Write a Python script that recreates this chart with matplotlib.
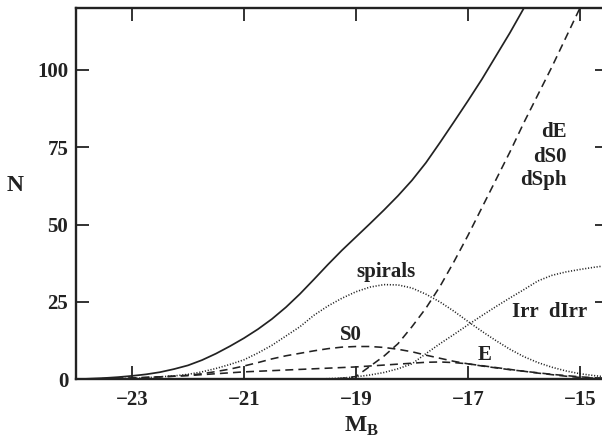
import numpy as np
import matplotlib.pyplot as plt

plt.rcParams['font.family'] = 'Liberation Serif'
plt.rcParams['font.weight'] = 'bold'
plt.rcParams['axes.labelweight'] = 'bold'
plt.rcParams['mathtext.fontset'] = 'custom'
plt.rcParams['mathtext.bf'] = 'Liberation Serif:bold'
plt.rcParams['mathtext.rm'] = 'Liberation Serif:bold'

# absolute magnitude grid
mag = [-24, -23.75, -23.5, -23.25, -23, -22.75, -22.5, -22.25, -22, -21.75,
       -21.5, -21.25, -21, -20.75, -20.5, -20.25, -20, -19.75, -19.5, -19.25,
       -19, -18.75, -18.5, -18.25, -18, -17.75, -17.5, -17.25, -17, -16.75,
       -16.5, -16.25, -16, -15.75, -15.5, -15.25, -15, -14.75, -14.5]

total = [0, 0.2, 0.4, 0.7, 1.1, 1.6, 2.3, 3.3, 4.5, 6.2,
         8.3, 10.7, 13.3, 16.2, 19.5, 23.3, 27.6, 32.3, 37.1, 41.7,
         46, 50.3, 54.7, 59.3, 64.3, 70, 76.5, 83.2, 90, 97,
         104.5, 112, 120, 128.5, 137, 146, 155, 164, 173]
spirals = [0, 0.05, 0.1, 0.2, 0.3, 0.5, 0.8, 1.1, 1.6, 2.4,
           3.5, 4.8, 6.3, 8.5, 11, 14, 17, 20.7, 23.7, 26.2,
           28.3, 29.8, 30.6, 30.5, 29.5, 27.5, 25, 22, 18.7, 15.5,
           12.5, 9.7, 7.3, 5.4, 3.9, 2.7, 1.8, 1.2, 0.7]
s0 = [0, 0.1, 0.2, 0.3, 0.4, 0.6, 0.8, 1.0, 1.3, 1.8,
      2.5, 3.3, 4.3, 5.4, 6.6, 7.6, 8.4, 9.2, 9.9, 10.4,
      10.6, 10.6, 10.3, 9.7, 8.9, 7.8, 6.8, 5.8, 5.0, 4.3,
      3.7, 3.1, 2.6, 2.1, 1.6, 1.2, 0.8, 0.5, 0.3]
ell = [0, 0.1, 0.2, 0.3, 0.4, 0.6, 0.8, 1.0, 1.2, 1.5,
       1.8, 2.1, 2.4, 2.6, 2.8, 3.0, 3.2, 3.4, 3.6, 3.8,
       4.0, 4.3, 4.6, 4.9, 5.2, 5.5, 5.6, 5.4, 5.0, 4.4,
       3.8, 3.2, 2.6, 2.0, 1.5, 1.0, 0.6, 0.4, 0.2]
dwarfs = [0, 0, 0, 0, 0, 0, 0, 0, 0, 0,
          0, 0, 0, 0, 0, 0, 0, 0, 0.1, 0.3,
          0.9, 4.2, 7.5, 11.5, 17, 23, 30, 38, 46.5, 55.5,
          64.5, 73.5, 83, 92, 101, 110.5, 120, 129, 138]
irr = [0, 0, 0, 0, 0, 0, 0, 0, 0, 0,
       0, 0, 0, 0, 0, 0, 0, 0, 0.2, 0.4,
       0.8, 1.4, 2.2, 3.4, 5, 8.3, 11.5, 14.5, 17.6, 20.6,
       23.5, 26.3, 29, 31.8, 33.6, 34.7, 35.5, 36.2, 36.8]

col = '#222222'
fig = plt.figure(figsize=(6.02, 4.41), dpi=100)
ax = fig.add_axes([0.1262, 0.1399, 0.8837, 0.842])

lw = 1.15
dash = (0, (5.0, 3.2))
dot = (0, (0.7, 1.1))
ax.plot(mag, total, color=col, lw=1.25)
ax.plot(mag, spirals, color=col, lw=lw, linestyle=dot)
ax.plot(mag, irr, color=col, lw=lw, linestyle=dot)
ax.plot(mag, s0, color=col, lw=lw, linestyle=dash)
ax.plot(mag, ell, color=col, lw=lw, linestyle=dash)
ax.plot(mag, dwarfs, color=col, lw=lw, linestyle=dash)

ax.set_xlim(-24, -14.5)
ax.set_ylim(0, 120)
ax.set_xticks([-23, -21, -19, -17, -15])
ax.set_xticklabels(['\u221223', '\u221221', '\u221219', '\u221217', '\u221215'])
ax.set_yticks([0, 25, 50, 75, 100])
ax.tick_params(direction='in', length=9.5, width=1.3, labelsize=15,
               top=True, right=True, colors=col)
ax.tick_params(axis='x', pad=8)
ax.tick_params(axis='y', pad=5.5)
for s in ax.spines.values():
    s.set_linewidth(1.7)
    s.set_color(col)

ax.set_ylabel('N', fontsize=17, fontweight='bold', rotation=0, color=col,
              ha='center', va='center')
ax.yaxis.set_label_coords(-0.1137, 0.523)
ax.set_xlabel(r'$\mathbf{M}_{\mathbf{B}}$', fontsize=17, color=col, ha='center', va='center')
ax.xaxis.set_label_coords(0.5376, -0.127)

fs = 15
ax.text(-18.47, 33.2, 'spirals', fontsize=fs, ha='center', va='baseline', color=col)
ax.text(-19.09, 12.7, 'S0', fontsize=fs, ha='center', va='baseline', color=col)
ax.text(-16.71, 6.2, 'E', fontsize=fs, ha='center', va='baseline', color=col)
ax.text(-16.22, 20.1, 'Irr  dIrr', fontsize=fs, ha='left', va='baseline', color=col)
ax.text(-15.24, 78.2, 'dE', fontsize=fs, ha='right', va='baseline', color=col)
ax.text(-15.24, 70.1, 'dS0', fontsize=fs, ha='right', va='baseline', color=col)
ax.text(-15.24, 62.7, 'dSph', fontsize=fs, ha='right', va='baseline', color=col)

fig.savefig('out.png', dpi=100)
